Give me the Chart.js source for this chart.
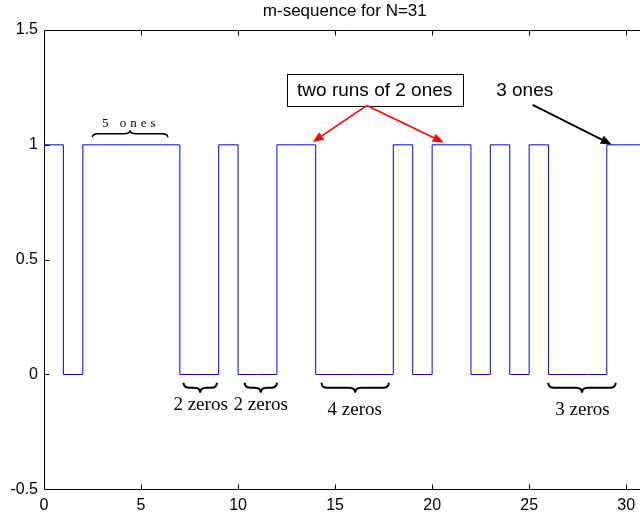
<!DOCTYPE html>
<html><head><meta charset="utf-8">
<script src="https://cdn.jsdelivr.net/npm/chart.js@4.4.1/dist/chart.umd.min.js"></script>
<style>
html,body{margin:0;padding:0;background:#fff;overflow:hidden}
#wrap{width:640px;height:517px;overflow:hidden;position:relative;background:#fff}
canvas{display:block}
</style></head>
<body><div id="wrap"><canvas id="c" width="660" height="517" style="width:660px;height:517px"></canvas></div>
<script>
// ---- data ----
const titleText = 'm-sequence for N=31';
const sampleIndex = [0,1,2,3,4,5,6,7,8,9,10,11,12,13,14,15,16,17,18,19,20,21,22,23,24,25,26,27,28,29,30,31];
const bits        = [1,0,1,1,1,1,1,0,0,1,0,0,1,1,0,0,0,0,1,0,1,1,0,1,0,1,0,0,0,1,1,1];
const xTicks = [0,5,10,15,20,25,30];
const yTicks = [-0.5,0,0.5,1,1.5];
const xRange = [0,31];
const yRange = [-0.5,1.5];

// ---- annotations (data coordinates) ----
const zeroBraceStart = [7.19,10.34,14.30,25.98];
const zeroBraceEnd   = [8.91,12.00,17.77,29.46];
const zeroBraceY = -0.058;
const zeroLabels = ['2 zeros','2 zeros','4 zeros','3 zeros'];
const zeroLabelX = [8.07,11.17,16.01,27.75];
const zeroLabelY = [-0.135,-0.135,-0.153,-0.153];
const onesBrace = [2.49,6.38,1.048];
const onesLabel = ['5 ones',4.37,1.094];
const boxLabel = ['two runs of 2 ones',17.04,1.240];
const redArrowStart = [16.63,1.171];
const redArrowTips = [[13.85,1.012],[20.60,1.010]];
const blackLabel = ['3 ones',24.77,1.236];
const blackArrow = [25.18,1.174,29.25,1.001];

Chart.defaults.font.family = '"Liberation Sans", Arial, sans-serif';
Chart.defaults.color = '#000';

function brace(ctx,x0,x1,yy,h,lw){
  const xm=(x0+x1)/2, r=Math.min(6,(x1-x0)/5);
  ctx.lineWidth=lw;
  ctx.beginPath();
  ctx.moveTo(x0,yy-h);
  ctx.quadraticCurveTo(x0,yy,x0+r,yy);
  ctx.lineTo(xm-r,yy);
  ctx.quadraticCurveTo(xm,yy,xm,yy+h);
  ctx.quadraticCurveTo(xm,yy,xm+r,yy);
  ctx.lineTo(x1-r,yy);
  ctx.quadraticCurveTo(x1,yy,x1,yy-h);
  ctx.stroke();
}
function arrow(ctx,x0,y0,x1,y1,color,lw){
  const ang=Math.atan2(y1-y0,x1-x0), hl=11, hw=4.5;
  const bx=x1-hl*Math.cos(ang), by=y1-hl*Math.sin(ang);
  ctx.strokeStyle=color; ctx.fillStyle=color; ctx.lineWidth=lw;
  ctx.beginPath(); ctx.moveTo(x0,y0); ctx.lineTo(bx,by); ctx.stroke();
  ctx.beginPath();
  ctx.moveTo(x1,y1);
  ctx.lineTo(bx+hw*Math.sin(ang),by-hw*Math.cos(ang));
  ctx.lineTo(bx-hw*Math.sin(ang),by+hw*Math.cos(ang));
  ctx.closePath(); ctx.fill();
}

const annot = {
  id:'annot',
  afterDatasetsDraw(chart){
    const {ctx, chartArea:a, scales:{x,y}} = chart;
    ctx.save();
    // axes box with inward ticks
    ctx.strokeStyle='#000'; ctx.lineWidth=1;
    const L=Math.round(a.left)+0.5, R=Math.round(a.right)+0.5, T=Math.round(a.top)+0.5, B=Math.round(a.bottom)+0.5;
    ctx.beginPath();
    ctx.moveTo(L,T); ctx.lineTo(R,T); ctx.lineTo(R,B); ctx.lineTo(L,B); ctx.closePath();
    xTicks.forEach(v=>{const px=Math.round(x.getPixelForValue(v))+0.5; ctx.moveTo(px,B); ctx.lineTo(px,B-5); ctx.moveTo(px,T); ctx.lineTo(px,T+5);});
    yTicks.forEach(v=>{const py=Math.round(y.getPixelForValue(v))+0.5; ctx.moveTo(L,py); ctx.lineTo(L+5,py); ctx.moveTo(R,py); ctx.lineTo(R-5,py);});
    ctx.stroke();

    // zero-run braces and labels
    ctx.strokeStyle='#000'; ctx.fillStyle='#000';
    zeroBraceStart.forEach((s,i)=>{
      brace(ctx,x.getPixelForValue(s),x.getPixelForValue(zeroBraceEnd[i]),y.getPixelForValue(zeroBraceY),5,2);
    });
    ctx.font='19px "Liberation Serif", "Times New Roman", serif';
    ctx.textAlign='center'; ctx.textBaseline='middle';
    zeroLabels.forEach((t,i)=>ctx.fillText(t,x.getPixelForValue(zeroLabelX[i]),y.getPixelForValue(zeroLabelY[i])));

    // 5 ones
    brace(ctx,x.getPixelForValue(onesBrace[0]),x.getPixelForValue(onesBrace[1]),y.getPixelForValue(onesBrace[2]),-3.5,1.5);
    ctx.font='13px "Liberation Serif", "Times New Roman", serif';
    ctx.letterSpacing='4px';
    ctx.fillText(onesLabel[0],x.getPixelForValue(onesLabel[1])+2,y.getPixelForValue(onesLabel[2]));
    ctx.letterSpacing='0px';

    // boxed label
    ctx.font='19px "Liberation Sans", Arial, sans-serif';
    const bxp=x.getPixelForValue(boxLabel[1]), byp=y.getPixelForValue(boxLabel[2]);
    const tw=ctx.measureText(boxLabel[0]).width;
    ctx.fillStyle='#fff';
    ctx.fillRect(bxp-tw/2-10.5,byp-16,tw+21,32);
    ctx.lineWidth=1; ctx.strokeStyle='#000';
    ctx.strokeRect(Math.round(bxp-tw/2-10.5)+0.5,Math.round(byp-16)+0.5,Math.round(tw+21),32);
    ctx.fillStyle='#000';
    ctx.fillText(boxLabel[0],bxp,byp+1);

    // red arrows
    redArrowTips.forEach(tp=>arrow(ctx,x.getPixelForValue(redArrowStart[0]),y.getPixelForValue(redArrowStart[1]),x.getPixelForValue(tp[0]),y.getPixelForValue(tp[1]),'#ff0000',1.6));

    // 3 ones
    ctx.fillStyle='#000';
    ctx.fillText(blackLabel[0],x.getPixelForValue(blackLabel[1]),y.getPixelForValue(blackLabel[2]));
    arrow(ctx,x.getPixelForValue(blackArrow[0]),y.getPixelForValue(blackArrow[1]),x.getPixelForValue(blackArrow[2]),y.getPixelForValue(blackArrow[3]),'#000',1.8);
    ctx.restore();
  }
};

new Chart(document.getElementById('c'),{
  type:'line',
  data:{datasets:[{
    data: sampleIndex.map((v,i)=>({x:v,y:bits[i]})),
    stepped:true,
    borderColor:'#0000ff',
    borderWidth:1,
    pointRadius:0,
    fill:false
  }]},
  options:{
    responsive:false,
    animation:false,
    devicePixelRatio:1,
    layout:{padding:{left:0,right:14.4,top:0,bottom:0}},
    plugins:{
      legend:{display:false},
      tooltip:{enabled:false},
      title:{display:true,text:titleText,fullSize:false,font:{size:17,weight:'normal'},padding:{top:0.8,bottom:8.8},color:'#000'}
    },
    scales:{
      x:{type:'linear',min:xRange[0],max:xRange[1],
        afterBuildTicks:s=>{s.ticks=xTicks.map(v=>({value:v}));},
        afterFit:s=>{s.height=27.7;},
        grid:{display:false,drawTicks:false},border:{display:false},
        ticks:{font:{size:16},padding:7,maxRotation:0,autoSkip:false,callback:v=>String(v)}},
      y:{type:'linear',min:yRange[0],max:yRange[1],
        afterBuildTicks:s=>{s.ticks=yTicks.map(v=>({value:v}));},
        afterFit:s=>{s.width=44;},
        grid:{display:false,drawTicks:false},border:{display:false},
        ticks:{font:{size:16},padding:6,autoSkip:false,callback:v=>String(v)}}
    }
  },
  plugins:[annot]
});
</script>
</body></html>
